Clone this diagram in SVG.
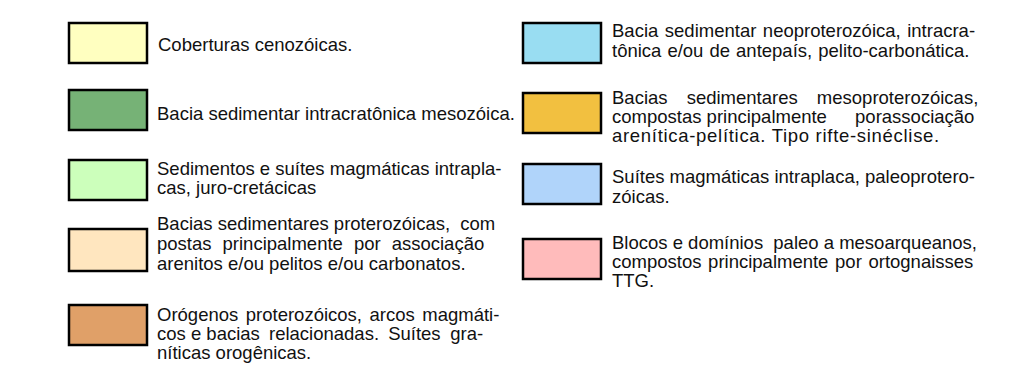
<svg xmlns="http://www.w3.org/2000/svg" width="1029" height="381" viewBox="0 0 1029 381">
<style>
.box{stroke:#000;stroke-width:2.5}
text{font-family:"Liberation Sans",Arial,sans-serif;font-size:18.5px;fill:#111}
</style>
<rect width="1029" height="381" fill="#fff"/>
<g id="n1"><rect class="box" x="69" y="23" width="78" height="40" fill="#FFFFC0"/><text x="158" y="51">Coberturas cenozóicas.</text></g>
<g id="n2"><rect class="box" x="69" y="90" width="78" height="40" fill="#76B276"/><text x="157" y="120">Bacia sedimentar intracratônica mesozóica.</text></g>
<g id="n3"><rect class="box" x="69" y="160" width="78" height="40" fill="#CCFFBB"/><text x="157" y="175">Sedimentos e suítes magmáticas intrapla-</text><text x="157" y="194">cas, juro-cretácicas</text></g>
<g id="n4"><rect class="box" x="69" y="229" width="78" height="42" fill="#FFE6BF"/><text x="157" y="230">Bacias sedimentares proterozóicas, <tspan dx="5">com</tspan></text><text x="157" y="250" word-spacing="5.9">postas principalmente por associação</text><text x="157" y="270">arenitos e/ou pelitos e/ou carbonatos.</text></g>
<g id="n5"><rect class="box" x="69" y="305" width="78" height="40" fill="#E0A068"/><text x="157" y="321" word-spacing="2.4">Orógenos proterozóicos, arcos magmáti-</text><text x="157" y="340">cos e bacias <tspan dx="4">relacionadas.</tspan> <tspan dx="4">Suítes</tspan> <tspan dx="4.5">gra-</tspan></text><text x="157" y="359">níticas orogênicas.</text></g>
<g id="n6"><rect class="box" x="523" y="23" width="78" height="40" fill="#99DDF2"/><text x="612" y="37" word-spacing="1.4">Bacia sedimentar neoproterozóica, intracra-</text><text x="612" y="57" word-spacing="0.9">tônica e/ou de antepaís, pelito-carbonática.</text></g>
<g id="n7"><rect class="box" x="523" y="93" width="78" height="40" fill="#F2C040"/><text x="612" y="104" word-spacing="14">Bacias sedimentares mesoproterozóicas,</text><text x="612" y="123">compostas principalmente <tspan dx="23">porassociação</tspan></text><text x="612" y="142" letter-spacing="0.7">arenítica-pelítica. Tipo rifte-sinéclise.</text></g>
<g id="n8"><rect class="box" x="523" y="164" width="78" height="40" fill="#B0D4FA"/><text x="612" y="183">Suítes magmáticas intraplaca, paleoprotero-</text><text x="612" y="203">zóicas.</text></g>
<g id="n9"><rect class="box" x="523" y="239" width="78" height="40" fill="#FFBBBB"/><text x="612" y="249">Blocos e domínios <tspan dx="5">paleo</tspan> a mesoarqueanos,</text><text x="612" y="268" word-spacing="1.5">compostos principalmente por ortognaisses</text><text x="612" y="287">TTG.</text></g>
<g id="connectors"/>
</svg>
